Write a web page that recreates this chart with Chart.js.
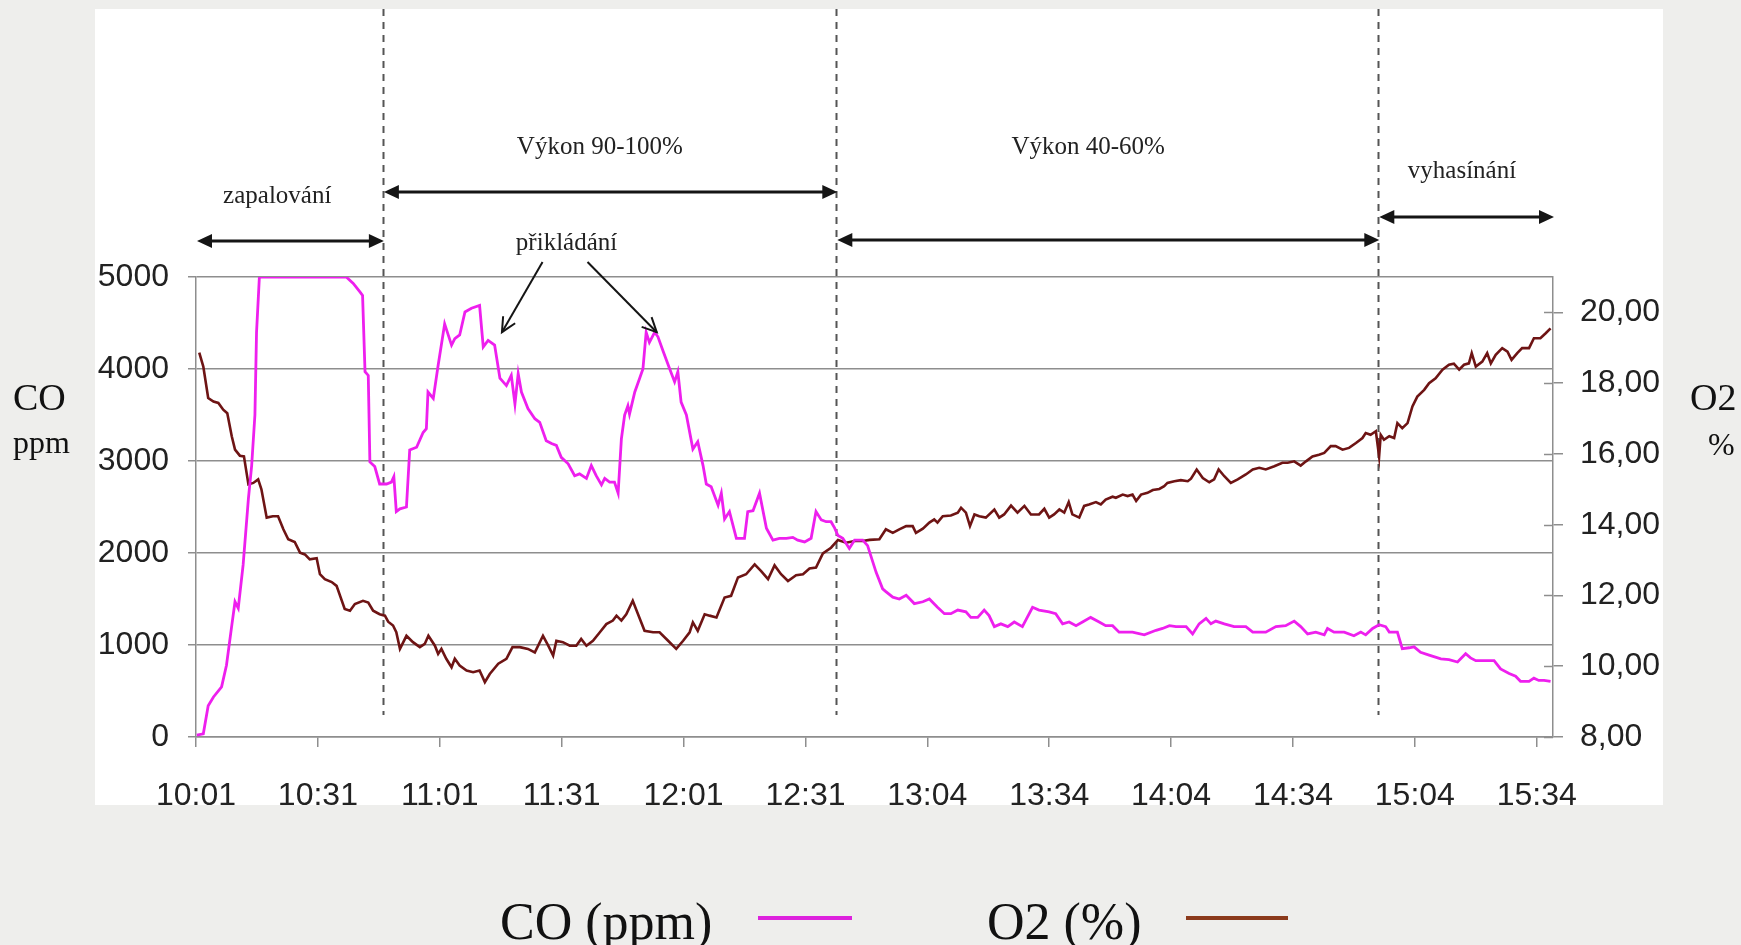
<!DOCTYPE html>
<html>
<head>
<meta charset="utf-8">
<script src="https://cdn.jsdelivr.net/npm/chart.js@4/dist/chart.umd.min.js"></script>
<style>
html,body{margin:0;padding:0;background:#eeeeec;}
canvas{display:block;}
</style>
</head>
<body>
<canvas id="c" width="1741" height="945"></canvas>
<script>
// ---- tick labels (every 30th sample) ----
const timeLabels = ['10:01','10:31','11:01','11:31','12:01','12:31','13:04','13:34','14:04','14:34','15:04','15:34'];

// ---- CO (ppm): sample index, value ----
const coIdx = [0.2,1.8,3,4.3,6.3,7.5,8.8,9.6,10.4,11.6,12.9,13.7,14.5,14.9,15.6,37,38.7,40.3,41,41.6,42.4,42.8,44,45.2,46.9,48.1,48.7,49.3,50.2,51.8,52.6,54.3,55.9,56.7,57.1,58.4,59.6,61.2,62.9,63.7,64.9,66.2,67.8,69.8,70.7,71.9,73.5,74.8,76.4,77.6,78.5,79.3,80.1,81.7,83.4,84.6,86.2,87.5,88.7,89.9,91.6,93.2,94.4,96.1,97.3,98.5,99.8,100.6,101.8,103,103.9,104.7,105.5,106.3,106.7,108,109.2,110,110.8,111.6,112.9,113.7,115,116.6,117.8,118.6,119.4,120.7,122.3,123.5,124.8,125.6,126.8,128.5,129.3,130.1,131.3,133,135,135.8,137.1,138.7,140.4,142,143.6,145.3,146.9,148.1,149.8,151.4,152.6,153.9,155.1,156.3,157.2,158,159.2,160.8,162.1,164.1,165.3,167.4,169,169.8,171.5,173.1,174.8,176.8,178.9,180.5,182.5,184.2,185.8,187.5,189.5,190.7,192.4,194,195.2,196.5,198.1,199.8,201.4,203.4,205.9,207.5,210,211.6,213.3,214.9,216.6,218.2,220.2,222.3,223.9,225.6,227.2,230.5,233.4,236.3,237.9,239.6,241.2,243.7,245.3,246.9,248.6,249.8,251,253.1,255.5,258.4,260.1,263.3,265.8,268.2,270.3,271.9,273.6,275.6,277.7,278.5,280.1,282.6,285,286.7,287.9,289.6,291.2,292.8,293.7,295.7,296.9,298.6,299.8,301.4,303.5,306.4,308.4,310.5,312.5,313.7,315,319.5,321.1,323.2,324.8,326,328.1,329.3,330.5,331.8,333.4];
const coVal = [20,35,340,435,545,780,1210,1470,1400,1870,2590,2950,3500,4400,5000,5000,4930,4840,4800,3970,3930,2990,2940,2750,2750,2770,2830,2450,2480,2500,3120,3150,3310,3350,3750,3680,4040,4490,4260,4330,4370,4620,4660,4690,4240,4310,4260,3900,3820,3930,3620,3950,3750,3570,3460,3420,3220,3190,3170,3040,2970,2840,2860,2810,2950,2840,2740,2810,2770,2770,2650,3240,3500,3600,3510,3750,3900,4000,4400,4290,4400,4350,4190,4000,3860,3970,3640,3500,3130,3210,2950,2750,2720,2520,2650,2370,2450,2160,2160,2450,2460,2650,2270,2140,2160,2160,2170,2140,2120,2160,2450,2360,2340,2340,2270,2190,2160,2050,2140,2140,2080,1790,1610,1580,1520,1500,1540,1450,1470,1500,1410,1340,1340,1380,1360,1300,1300,1380,1320,1200,1230,1200,1250,1200,1410,1380,1360,1340,1230,1250,1210,1250,1300,1250,1210,1210,1140,1140,1110,1160,1180,1210,1200,1200,1120,1230,1290,1230,1260,1230,1200,1200,1140,1140,1200,1210,1260,1200,1120,1140,1110,1180,1140,1140,1100,1140,1110,1180,1220,1200,1140,1140,960,970,980,920,890,850,840,815,905,860,830,830,740,690,660,605,605,640,615,615,605];

// ---- O2 (%): sample index, value ----
const o2Idx = [0.8,1.8,3,4.3,5.5,6.7,7.7,8.8,9.6,10.8,11.8,12.9,14.1,15.3,16.1,17.4,18.9,20.2,21.5,22.7,24.3,25.6,26.8,28,29.7,30.5,31.7,33.4,34.6,36.6,37.9,39.1,41.1,42.4,43.6,45.2,46.5,47.3,48.5,49.3,50.2,51.8,53.4,55.1,56.3,57.2,58.8,59.6,60.4,61.6,62.9,63.7,64.9,66.6,68.2,69.8,71.1,72.3,74.4,76.4,77.9,79.7,81.7,83.4,85.4,86.7,87.9,88.7,90.3,92,93.6,94.8,96.1,97.7,99.4,101,102.6,103.5,104.7,105.9,107.5,108.8,110.4,112.5,114.1,116.2,118.2,119.9,121.5,122.3,123.5,125.2,126.4,128.1,130.1,131.7,133.4,135.4,137.5,139.1,140.8,142.4,144,145.7,147.7,149.4,151,152.6,154.3,156.3,158,160,162.1,164.1,165.8,168.2,169.8,171.5,173.1,174.8,176.4,177.2,178.9,180.5,181.7,182.5,183.8,185.8,187.5,188.3,189.5,190.5,191.6,192.8,194.4,196.5,197.7,198.9,200.6,202.2,203.9,205.5,207.5,208.8,210,211.2,212.5,213.7,214.8,215.7,217.4,218.6,219.8,221.5,222.7,223.9,225.6,226.4,228.1,229.3,230.5,231.4,232.6,234.2,235.5,237.1,238.3,239.1,240.8,242.4,244.1,244.9,246.3,247.8,249.4,250.6,251.7,253.1,254.7,256.4,258.4,260.1,261.7,263.3,265.4,267.4,268.7,270.3,271.9,273.2,274.8,276.4,277.7,279.3,280.5,282.2,283.8,285.5,287.1,287.9,289.1,290.4,291.2,291.6,292.4,293.7,294.9,295.7,296.9,298.2,299.4,300.6,302.3,303.5,305.1,306.8,308.4,309.6,310.9,312.1,313.3,314,315,316.6,317.8,318.7,319.9,321.5,322.8,323.8,325.2,326.4,328.1,329.3,330.9,332.2,333.4];
const o2Val = [18.86,18.47,17.58,17.48,17.44,17.25,17.15,16.5,16.12,15.95,15.93,15.14,15.18,15.28,15.0,14.2,14.24,14.24,13.87,13.59,13.51,13.21,13.16,13.02,13.05,12.6,12.46,12.38,12.27,11.62,11.57,11.76,11.85,11.8,11.57,11.47,11.43,11.26,11.15,10.96,10.49,10.86,10.68,10.54,10.63,10.86,10.58,10.35,10.49,10.21,9.97,10.21,10.02,9.88,9.83,9.88,9.55,9.78,10.07,10.21,10.54,10.54,10.49,10.39,10.86,10.58,10.3,10.72,10.68,10.58,10.58,10.77,10.58,10.72,10.96,11.19,11.29,11.43,11.29,11.47,11.85,11.47,11.0,10.96,10.96,10.72,10.49,10.72,10.96,11.24,11.0,11.47,11.43,11.38,11.94,11.99,12.51,12.6,12.88,12.69,12.46,12.85,12.6,12.41,12.57,12.6,12.76,12.79,13.19,13.35,13.57,13.49,13.54,13.54,13.57,13.59,13.87,13.77,13.87,13.96,13.96,13.77,13.89,14.06,14.15,14.06,14.24,14.26,14.34,14.48,14.34,13.96,14.29,14.24,14.2,14.43,14.2,14.29,14.54,14.34,14.53,14.29,14.29,14.45,14.2,14.29,14.43,14.34,14.64,14.29,14.2,14.53,14.57,14.64,14.57,14.71,14.79,14.76,14.85,14.81,14.85,14.67,14.85,14.9,14.98,15.01,15.09,15.18,15.23,15.26,15.23,15.3,15.56,15.32,15.2,15.28,15.56,15.37,15.18,15.28,15.42,15.56,15.61,15.56,15.65,15.75,15.75,15.79,15.67,15.79,15.93,15.98,16.03,16.22,16.22,16.12,16.17,16.31,16.45,16.59,16.54,16.64,15.93,16.54,16.4,16.5,16.45,16.87,16.73,16.87,17.34,17.62,17.81,18.0,18.14,18.38,18.52,18.55,18.38,18.52,18.56,18.85,18.47,18.61,18.85,18.56,18.8,18.99,18.89,18.66,18.85,18.99,18.99,19.27,19.27,19.41,19.55];

// ---- phase annotations (sample index of the boundaries) ----
const phaseBounds = [46, 157.6, 291];
const phaseNames = ['zapalování', 'Výkon 90-100%', 'Výkon 40-60%', 'vyhasínání'];
const phaseStart = [0, 46, 157.6, 291];
const phaseEnd = [46, 157.6, 291, 334];
const phaseTextAt = [20, 99.4, 219.6, 311.6];
const feedLabel = 'přikládání';
const feedTextAt = 91.2;
const feedTipIdx = [75.3, 113.4];
const feedTipVal = [4400, 4400];

const CO_COLOR = '#ee1fee';
const O2_COLOR = '#6e1414';
const GRID = '#8e8e8e';

const bgPlugin = {
  id: 'bg',
  beforeDraw(chart) {
    const c = chart.ctx;
    c.save();
    c.fillStyle = '#eeeeec';
    c.fillRect(0, 0, chart.width, chart.height);
    c.fillStyle = '#ffffff';
    c.fillRect(95, 9, 1663 - 95, 805 - 9);
    c.restore();
  },
  beforeDatasetsDraw(chart) {
    const c = chart.ctx, x = chart.scales.x;
    c.save();
    c.strokeStyle = '#555';
    c.lineWidth = 2;
    c.setLineDash([7, 6]);
    phaseBounds.forEach(b => {
      const px = Math.round(x.getPixelForValue(b)) + 0.5;
      c.beginPath(); c.moveTo(px, 9); c.lineTo(px, 715); c.stroke();
    });
    c.restore();
  }
};

function dblArrow(c, x1, x2, y) {
  const hl = 15, hw = 7;
  c.beginPath(); c.moveTo(x1 + hl - 2, y); c.lineTo(x2 - hl + 2, y); c.stroke();
  c.beginPath(); c.moveTo(x1, y); c.lineTo(x1 + hl, y - hw); c.lineTo(x1 + hl, y + hw); c.closePath(); c.fill();
  c.beginPath(); c.moveTo(x2, y); c.lineTo(x2 - hl, y - hw); c.lineTo(x2 - hl, y + hw); c.closePath(); c.fill();
}
function openArrow(c, x1, y1, x2, y2) {
  c.beginPath(); c.moveTo(x1, y1); c.lineTo(x2, y2); c.stroke();
  const a = Math.atan2(y2 - y1, x2 - x1), L = 16, s = 0.45;
  c.beginPath();
  c.moveTo(x2 - L * Math.cos(a - s), y2 - L * Math.sin(a - s));
  c.lineTo(x2, y2);
  c.lineTo(x2 - L * Math.cos(a + s), y2 - L * Math.sin(a + s));
  c.stroke();
}

const annotPlugin = {
  id: 'annot',
  afterDraw(chart) {
    const c = chart.ctx, x = chart.scales.x, y = chart.scales.y, y2 = chart.scales.y2;
    c.save();
    // inner half of right-axis tick marks
    c.strokeStyle = GRID; c.lineWidth = 1.5;
    y2.ticks.forEach(t => {
      const py = Math.round(y2.getPixelForValue(t.value)) + 0.5;
      c.beginPath(); c.moveTo(chart.chartArea.right - 9, py); c.lineTo(chart.chartArea.right, py); c.stroke();
    });
    // phase arrows and names
    const arrowY = [241, 192, 240, 217];
    const textY = [196, 147, 147, 171];
    c.fillStyle = '#151515'; c.strokeStyle = '#151515'; c.lineWidth = 3;
    for (let i = 0; i < phaseNames.length; i++) {
      dblArrow(c, x.getPixelForValue(phaseStart[i]) + 1, x.getPixelForValue(phaseEnd[i]) + 1, arrowY[i]);
    }
    c.font = '25px "Liberation Serif"';
    c.textAlign = 'center'; c.textBaseline = 'middle';
    c.fillStyle = '#222';
    for (let i = 0; i < phaseNames.length; i++) {
      c.fillText(phaseNames[i], x.getPixelForValue(phaseTextAt[i]), textY[i]);
    }
    // feeding label with two arrows
    const fx = x.getPixelForValue(feedTextAt);
    c.fillText(feedLabel, fx, 243);
    c.strokeStyle = '#151515'; c.lineWidth = 2;
    openArrow(c, fx - 24, 262, x.getPixelForValue(feedTipIdx[0]), y.getPixelForValue(feedTipVal[0]));
    openArrow(c, fx + 21, 262, x.getPixelForValue(feedTipIdx[1]), y.getPixelForValue(feedTipVal[1]));
    // side axis titles
    c.fillStyle = '#111';
    c.textAlign = 'left'; c.textBaseline = 'alphabetic';
    c.font = '38px "Liberation Serif"';
    c.fillText('CO', 13, 410);
    c.fillText('O2', 1690, 410);
    c.font = '32px "Liberation Serif"';
    c.fillText('ppm', 13, 453);
    c.fillText('%', 1708, 455);
    // legend
    c.font = '52px "Liberation Serif"';
    c.fillText('CO (ppm)', 500, 939);
    c.fillText('O2 (%)', 987, 939);
    c.lineWidth = 4;
    c.strokeStyle = '#dd22dd';
    c.beginPath(); c.moveTo(758, 918); c.lineTo(852, 918); c.stroke();
    c.strokeStyle = '#8b3a1c';
    c.beginPath(); c.moveTo(1186, 918); c.lineTo(1288, 918); c.stroke();
    c.restore();
  }
};

const tickFont = { family: '"Liberation Sans", Arial, sans-serif', size: 32 };

new Chart(document.getElementById('c'), {
  type: 'line',
  data: {
    datasets: [
      {
        label: 'CO (ppm)',
        data: coIdx.map((v, i) => ({ x: v, y: coVal[i] })),
        yAxisID: 'y',
        borderColor: CO_COLOR,
        borderWidth: 2.8,
        pointRadius: 0,
        tension: 0
      },
      {
        label: 'O2 (%)',
        data: o2Idx.map((v, i) => ({ x: v, y: o2Val[i] })),
        yAxisID: 'y2',
        borderColor: O2_COLOR,
        borderWidth: 2.6,
        pointRadius: 0,
        tension: 0
      }
    ]
  },
  options: {
    responsive: false,
    animation: false,
    layout: { padding: { top: 277, left: 0, right: 0, bottom: 0 } },
    plugins: { legend: { display: false }, tooltip: { enabled: false } },
    scales: {
      x: {
        type: 'linear', min: 0, max: 334,
        afterFit(s) { s.height = 208; },
        ticks: {
          stepSize: 30, includeBounds: false, autoSkip: false, maxRotation: 0, minRotation: 0,
          callback: v => timeLabels[Math.round(v / 30)],
          font: tickFont, color: '#222', padding: 30
        },
        grid: { drawOnChartArea: false, tickLength: 10, color: GRID, lineWidth: 1.5 },
        border: { color: GRID, width: 1.5 }
      },
      y: {
        position: 'left', min: 0, max: 5000,
        afterFit(s) { s.width = 196; },
        ticks: { stepSize: 1000, callback: v => String(v), font: tickFont, color: '#222', padding: 19 },
        grid: { color: GRID, lineWidth: 1.5, tickLength: 8 },
        border: { color: GRID, width: 1.5 }
      },
      y2: {
        position: 'right', min: 8, max: 21,
        afterFit(s) { s.width = 188; },
        ticks: {
          stepSize: 2, includeBounds: false,
          callback: v => v.toFixed(2).replace('.', ','),
          font: tickFont, color: '#222', padding: 17
        },
        grid: { drawOnChartArea: false, tickLength: 10, color: GRID, lineWidth: 1.5 },
        border: { color: GRID, width: 1.5 }
      }
    }
  },
  plugins: [bgPlugin, annotPlugin]
});
</script>
</body>
</html>
